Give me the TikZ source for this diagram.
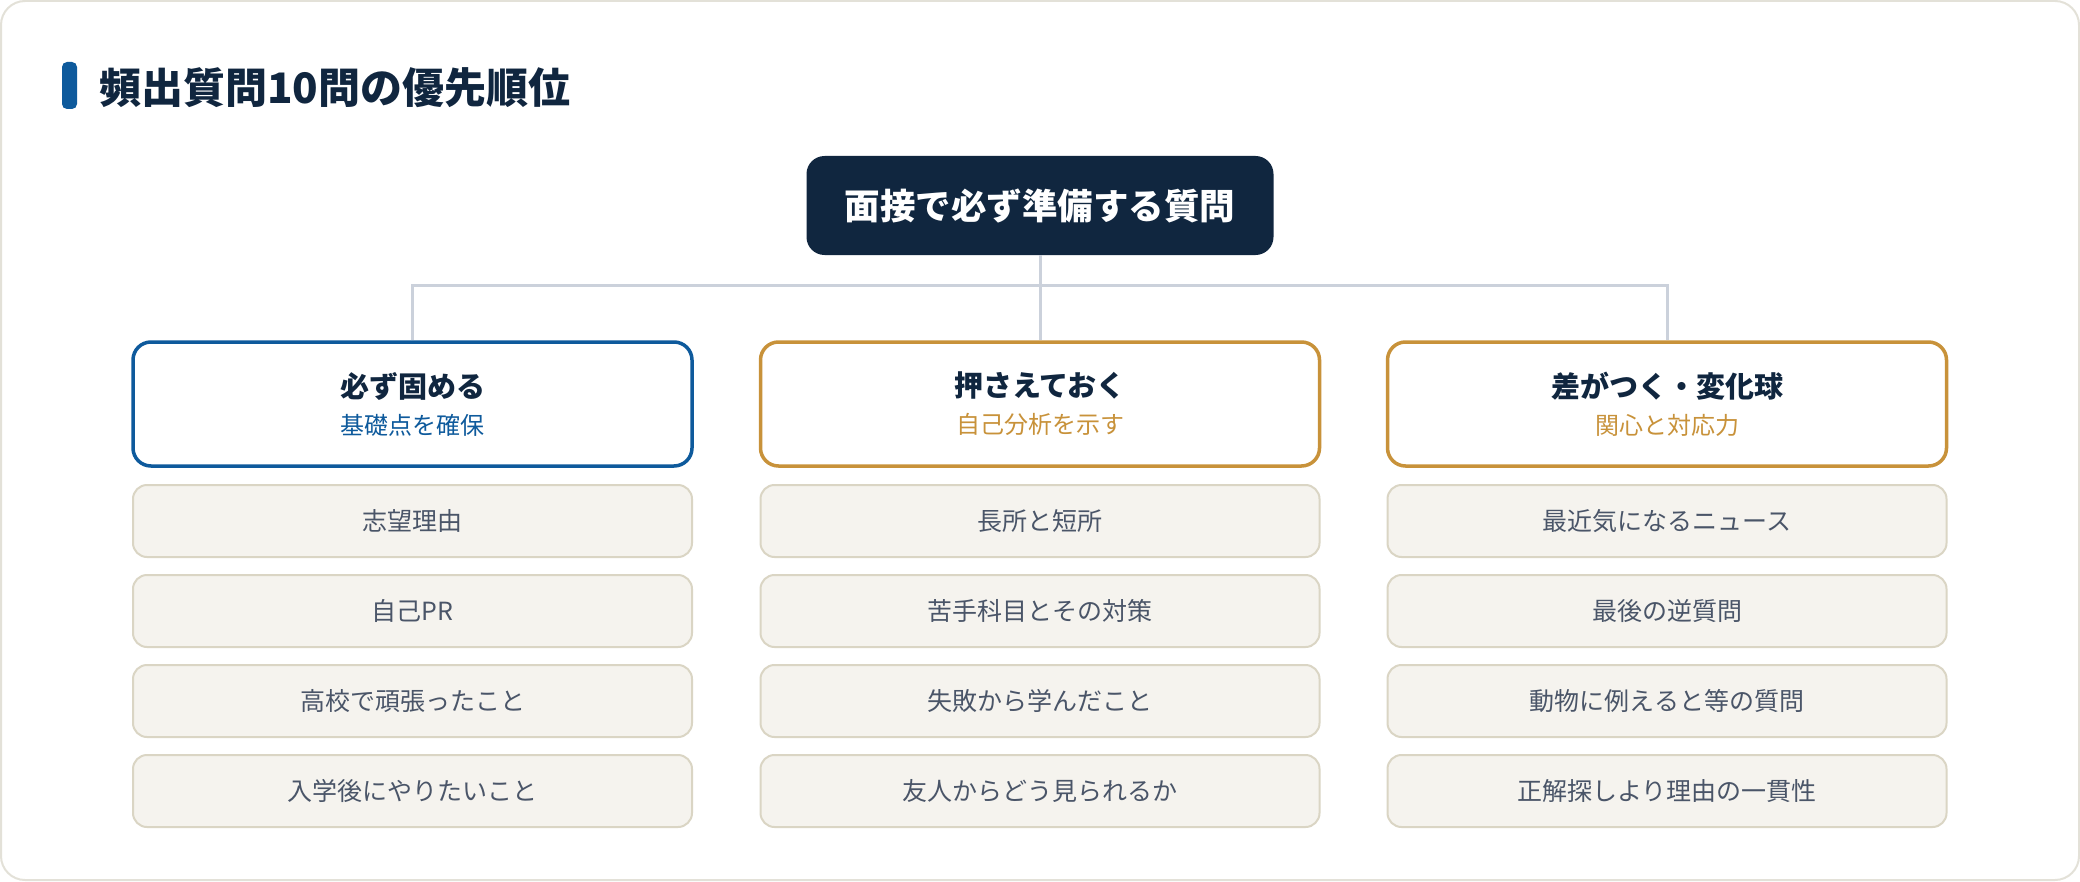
\documentclass[tikz,border=0pt]{standalone}
\usepackage{fontspec}
\setmainfont{Noto Sans CJK JP}
\definecolor{navy}{HTML}{10263F}
\definecolor{mainblue}{HTML}{0E5A9C}
\definecolor{gold}{HTML}{C8923A}
\definecolor{leaffill}{HTML}{F5F3EE}
\definecolor{leafline}{HTML}{DAD5C4}
\definecolor{leaftext}{HTML}{4A5568}
\definecolor{linkgray}{HTML}{CBD1DB}
\definecolor{framegray}{HTML}{E3E1D8}

\begin{document}
\begin{tikzpicture}[x=0.5pt,y=-0.5pt,
  head/.style={draw=#1,line width=1.75pt,fill=white,rounded corners=9pt,
    minimum width=279.5pt,minimum height=62pt,align=center,
    font=\fontsize{12pt}{18.5pt}\selectfont},
  leaf/.style={draw=leafline,line width=1pt,fill=leaffill,rounded corners=7pt,
    minimum width=279.5pt,minimum height=36pt,text=leaftext,
    font=\fontsize{12.5pt}{15pt}\selectfont},
  link/.style={draw=linkgray,line width=1.5pt}]

% frame
\useasboundingbox (0,0) rectangle (2080,882);
\draw[framegray,line width=1pt,fill=white,rounded corners=12pt] (1,1) rectangle (2079,880);

% title
\fill[mainblue,rounded corners=2.5pt] (62,62) rectangle (77,109);
\node[anchor=west,inner sep=0pt,text=navy,font=\fontsize{21pt}{26pt}\selectfont\bfseries] (title) at (99,88) {頻出質問10問の優先順位};

% root
\node[fill=navy,rounded corners=9pt,minimum width=233.5pt,minimum height=49.5pt,
  text=white,font=\fontsize{17.75pt}{21pt}\selectfont\bfseries] (root) at (1040,205.5) {面接で必ず準備する質問};

% three groups
\node[head=mainblue] (must) at (412.5,404)
  {{\fontsize{14.5pt}{18.5pt}\selectfont\bfseries\color{navy}必ず固める}\\{\color{mainblue}基礎点を確保}};
\node[head=gold] (hold) at (1040,404)
  {{\fontsize{14.5pt}{18.5pt}\selectfont\bfseries\color{navy}押さえておく}\\{\color{gold}自己分析を示す}};
\node[head=gold] (edge) at (1667,404)
  {{\fontsize{14.5pt}{18.5pt}\selectfont\bfseries\color{navy}差がつく・変化球}\\{\color{gold}関心と対応力}};

% connectors
\coordinate (bus) at (1040,285);
\draw[link] (root) -- (bus);
\draw[link] (must.north) |- (bus) -| (edge.north);
\draw[link] (bus) -- (hold.north);

% questions
\node[leaf] (must1) at (412.5,521) {志望理由};
\node[leaf] (must2) at (412.5,611) {自己PR};
\node[leaf] (must3) at (412.5,701) {高校で頑張ったこと};
\node[leaf] (must4) at (412.5,791) {入学後にやりたいこと};

\node[leaf] (hold1) at (1040,521) {長所と短所};
\node[leaf] (hold2) at (1040,611) {苦手科目とその対策};
\node[leaf] (hold3) at (1040,701) {失敗から学んだこと};
\node[leaf] (hold4) at (1040,791) {友人からどう見られるか};

\node[leaf] (edge1) at (1667,521) {最近気になるニュース};
\node[leaf] (edge2) at (1667,611) {最後の逆質問};
\node[leaf] (edge3) at (1667,701) {動物に例えると等の質問};
\node[leaf] (edge4) at (1667,791) {正解探しより理由の一貫性};
\end{tikzpicture}
\end{document}
